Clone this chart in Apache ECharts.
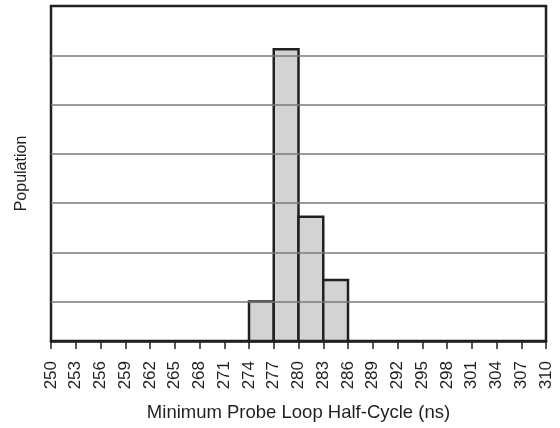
<!DOCTYPE html>
<html>
<head>
<meta charset="utf-8">
<script src="https://cdn.jsdelivr.net/npm/echarts@6/dist/echarts.min.js"></script>
<style>
html,body{margin:0;padding:0;background:#fff;}
#c{width:560px;height:428px;}
</style>
</head>
<body>
<div id="c"></div>
<script>
// Histogram bins (ns) and population counts
const binStarts = [274, 277, 280, 283];
const binEnds = [277, 280, 283, 286];
const counts = [2, 14.8, 6.3, 3.1];
// Axis tick labels
const tickLabels = ['250','253','256','259','262','265','268','271','274','277','280','283','286','289','292','295','298','301','304','307','310'];
const gridValues = [2, 4.5, 7, 9.5, 12, 14.5];
const xTitle = 'Minimum Probe Loop Half-Cycle (ns)';
const yTitle = 'Population';

const font = 'Liberation Sans, Arial, Helvetica, sans-serif';
const data = binStarts.map((s, i) => [s, binEnds[i], counts[i]]);

const chart = echarts.init(document.getElementById('c'), null, {renderer: 'canvas'});
chart.setOption({
  animation: false,
  backgroundColor: '#fff',
  grid: {left: 51, right: 14, top: 6, bottom: 87, show: true, borderColor: '#231f20', borderWidth: 2.5, backgroundColor: 'transparent'},
  xAxis: {
    type: 'value', min: 250, max: 310, interval: 3,
    name: xTitle, nameLocation: 'middle', nameGap: 62,
    nameTextStyle: {fontFamily: font, fontSize: 18.5, color: '#231f20'},
    axisLine: {show: true, lineStyle: {color: '#231f20', width: 2.5}},
    axisTick: {show: true, length: 8, lineStyle: {color: '#231f20', width: 1.5}},
    axisLabel: {rotate: 90, margin: 20, fontFamily: font, fontSize: 17, color: '#231f20',
      formatter: v => { const s = String(Math.round(v)); return tickLabels.includes(s) ? s : ''; }},
    splitLine: {show: false}
  },
  yAxis: {
    type: 'value', min: 0, max: 17,
    name: yTitle, nameLocation: 'middle', nameGap: 21,
    nameTextStyle: {fontFamily: font, fontSize: 16, color: '#231f20'},
    axisLine: {show: false}, axisTick: {show: false}, axisLabel: {show: false},
    splitLine: {show: false}
  },
  series: [
    {
      type: 'line', data: [], z: 1, silent: true,
      markLine: {
        silent: true, symbol: ['none', 'none'], label: {show: false},
        lineStyle: {color: '#7a7a7a', width: 1.5, type: 'solid'},
        data: gridValues.map(v => ({yAxis: v}))
      }
    },
    {
      type: 'custom', z: 3,
      encode: {x: [0, 1], y: 2},
      data: data,
      renderItem: function (params, api) {
        const p0 = api.coord([api.value(0), api.value(2)]);
        const p1 = api.coord([api.value(1), 0]);
        return {
          type: 'rect',
          shape: {x: p0[0], y: p0[1], width: p1[0] - p0[0], height: p1[1] - p0[1]},
          style: {fill: '#d3d3d5', stroke: '#231f20', lineWidth: 2.5}
        };
      }
    }
  ]
});
</script>
</body>
</html>
